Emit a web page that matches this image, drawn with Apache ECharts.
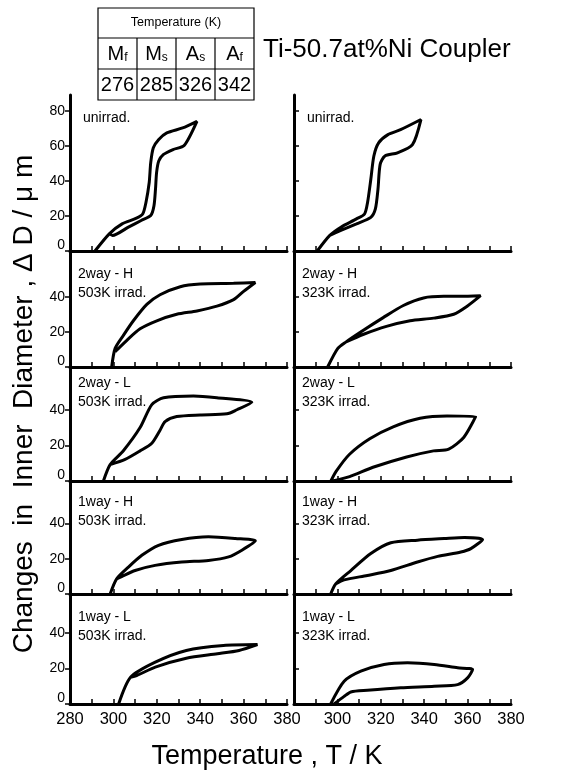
<!DOCTYPE html>
<html>
<head>
<meta charset="utf-8">
<script src="https://cdn.jsdelivr.net/npm/echarts@6/dist/echarts.min.js"></script>
<style>
html, body { margin: 0; padding: 0; background: #fff; }
#chart { width: 567px; height: 773px; }
</style>
</head>
<body>
<div id="chart"></div>
<script>
var FONT = '"Liberation Sans", Arial, sans-serif';

/* axes */
var tempMin = 280, tempMax = 380;
var rowYMax = [89, 66, 64, 64, 62];
var rowYTicks = [[0, 20, 40, 60, 80], [0, 20, 40], [0, 20, 40], [0, 20, 40], [0, 20, 40]];

/* panel captions, top to bottom */
var panelNames = ['unirrad.', '2way - H', '2way - L', '1way - H', '1way - L'];
var irradLeft = '503K irrad.';
var irradRight = '323K irrad.';

/* transformation temperatures table */
var phaseNames = [['M', 'f'], ['M', 's'], ['A', 's'], ['A', 'f']];
var phaseTemps = [276, 285, 326, 342];

/* loops [T (K), dD (um)]: branch a from start to the high end, branch b back */
var unirrLa = [[291.5, 0], [298.1, 9.8], [304.0, 15.5], [310.6, 18.7], [313.5, 21.1], [315.0, 27.7], [316.5, 39.1], [317.2, 50.4], [318.4, 58.9], [320.9, 63.6], [324.6, 67.4], [331.9, 70.2], [338.5, 74.0]];
var unirrLb = [[338.5, 74.0], [332.6, 60.2], [327.5, 57.9], [323.1, 55.1], [320.9, 51.3], [319.9, 44.7], [319.4, 35.3], [318.7, 25.8], [317.2, 20.2], [312.8, 17.4], [306.9, 13.6], [299.6, 8.9], [298.1, 9.8]];
var unirrRa = [[290.7, 0], [296.5, 8.9], [301.6, 13.6], [308.8, 18.3], [312.5, 21.1], [313.9, 27.7], [315.4, 40.9], [316.8, 54.2], [319.0, 61.7], [323.3, 66.4], [329.1, 69.2], [338.5, 75.0]];
var unirrRb = [[338.5, 75.0], [334.6, 60.7], [327.7, 56.0], [321.9, 54.2], [319.7, 49.4], [318.7, 35.3], [317.5, 24.0], [315.4, 19.2], [308.8, 15.5], [301.6, 11.7], [296.5, 8.9]];

var twoHLa = [[299.2, 0], [300.8, 10.6], [304.6, 18.0], [309.2, 26.3], [315.4, 35.6], [321.5, 41.1], [330.8, 45.7], [340.0, 47.2], [355.4, 47.6], [365.4, 48.1]];
var twoHLb = [[365.4, 48.1], [360.0, 43.0], [355.4, 38.3], [347.7, 34.6], [338.5, 31.9], [329.2, 30.0], [320.0, 26.3], [312.3, 21.7], [306.2, 15.2], [300.8, 8.7]];
var twoHRa = [[295.5, 0], [300.2, 10.6], [304.0, 14.3], [310.2, 19.5], [321.1, 28.1], [330.4, 35.0], [339.7, 39.3], [349.0, 40.2], [356.7, 40.2], [366.0, 40.6]];
var twoHRb = [[366.0, 40.6], [359.8, 34.6], [353.6, 30.0], [344.3, 27.8], [333.5, 26.3], [322.6, 23.1], [311.8, 18.5], [304.0, 14.3]];

var twoLLa = [[295.4, 0], [298.5, 9.2], [304.6, 17.0], [312.3, 30.0], [317.7, 42.9], [323.1, 46.7], [336.9, 47.7], [347.7, 46.7], [363.8, 44.2]];
var twoLLb = [[363.8, 44.2], [356.9, 40.0], [352.3, 37.7], [340.0, 37.1], [329.2, 36.2], [323.8, 33.3], [321.5, 28.5], [317.7, 21.2], [312.3, 16.9], [305.4, 12.1], [298.5, 9.2]];
var twoLRa = [[297.0, 0], [299.4, 5.4], [305.6, 15.0], [314.9, 23.7], [325.7, 30.4], [338.1, 35.2], [350.5, 36.5], [363.7, 36.2]];
var twoLRb = [[363.7, 36.2], [358.3, 24.6], [351.3, 17.9], [344.3, 16.9], [331.9, 13.5], [316.4, 7.7], [305.6, 2.5], [297.8, 0]];

var oneHLa = [[298.5, 0], [301.5, 8.6], [306.9, 15.2], [313.1, 21.9], [320.8, 27.6], [331.5, 30.9], [343.8, 32.4], [356.2, 31.4], [365.4, 30.1]];
var oneHLb = [[365.4, 30.1], [359.2, 24.8], [353.1, 21.0], [343.8, 19.0], [331.5, 18.1], [319.2, 16.2], [310.0, 13.3], [303.8, 9.9], [301.5, 8.6]];
var oneHRa = [[296.9, 0], [299.2, 5.7], [306.2, 13.3], [315.4, 22.9], [324.6, 29.0], [336.9, 30.5], [349.2, 31.4], [358.5, 32.0], [366.9, 30.9]];
var oneHRb = [[366.9, 30.9], [361.5, 25.7], [356.9, 23.8], [346.2, 21.3], [336.9, 18.1], [324.6, 13.3], [313.8, 10.5], [303.1, 8.0], [299.2, 5.7]];

var oneLLa = [[302.4, 0], [307.9, 15.1], [319.3, 23.6], [333.6, 30.2], [350.7, 33.0], [366.4, 33.5]];
var oneLLb = [[366.4, 33.5], [357.9, 30.2], [347.9, 28.3], [333.6, 25.8], [319.3, 20.8], [310.7, 16.0], [307.9, 15.1]];
var oneLRa = [[296.9, 0], [303.1, 12.8], [310.8, 18.5], [321.5, 22.3], [332.3, 23.2], [344.6, 22.3], [355.4, 20.4], [362.3, 19.4]];
var oneLRb = [[362.3, 19.4], [360.0, 14.7], [355.4, 10.9], [344.6, 10.0], [329.2, 9.1], [313.8, 7.7], [306.2, 6.8], [303.1, 4.3], [298.5, 0]];

// row-major: left (503K), right (323K)
var loops = [
    [unirrLa, unirrLb], [unirrRa, unirrRb],
    [twoHLa, twoHLb], [twoHRa, twoHRb],
    [twoLLa, twoLLb], [twoLRa, twoLRb],
    [oneHLa, oneHLb], [oneHRa, oneHRb],
    [oneLLa, oneLLb], [oneLRa, oneLRb]
];

/* layout */
var colLeft = [70, 294];
var colWidth = 217;
var rowTop = [95, 251, 367, 481, 594];
var rowBottom = [251, 367, 481, 594, 704];
var captionOffset = [23, 23, 16, 21, 23];

var grids = [], xAxes = [], yAxes = [], series = [], graphics = [];

for (var r = 0; r < 5; r++) {
    for (var c = 0; c < 2; c++) {
        var i = r * 2 + c;
        grids.push({
            left: colLeft[c], width: colWidth,
            top: rowTop[r], height: rowBottom[r] - rowTop[r]
        });
        xAxes.push({
            type: 'value', gridIndex: i,
            min: tempMin, max: tempMax, interval: 10,
            axisLine: { lineStyle: { color: '#000', width: 3 } },
            axisTick: { inside: true, length: 5, lineStyle: { color: '#000', width: 1.5 } },
            splitLine: { show: false },
            axisLabel: {
                show: r === 4, fontSize: 16.5, fontFamily: FONT, color: '#000', margin: 7,
                formatter: (function (col) {
                    return function (v) {
                        if (v % 20 !== 0) return '';
                        if (col === 1 && v === tempMin) return '';
                        return v;
                    };
                })(c)
            }
        });
        yAxes.push({
            type: 'value', gridIndex: i,
            min: 0, max: rowYMax[r], interval: 20,
            axisLine: { show: true, onZero: false, lineStyle: { color: '#000', width: 3 } },
            axisTick: {
                show: true, inside: c === 1, length: 5,
                customValues: rowYTicks[r],
                lineStyle: { color: '#000', width: 1.5 }
            },
            axisLabel: {
                show: c === 0, customValues: rowYTicks[r],
                fontSize: 14, fontFamily: FONT, color: '#000', margin: 5,
                formatter: function (v) { return v === 0 ? '{z|0}' : String(v); },
                rich: { z: { fontSize: 14, fontFamily: FONT, color: '#000', padding: [0, 0, 12, 0] } }
            },
            splitLine: { show: false }
        });
        series.push({
            type: 'line', xAxisIndex: i, yAxisIndex: i,
            data: loops[i][0].concat(loops[i][1].slice(1)),
            showSymbol: false, smooth: 0.25,
            lineStyle: { color: '#000', width: 3 },
            silent: true
        });

        var caption = r === 0 ? panelNames[r] : panelNames[r] + '\n' + (c === 0 ? irradLeft : irradRight);
        graphics.push({
            type: 'text',
            x: colLeft[c] + (r === 0 ? 13 : 8),
            y: rowTop[r] + captionOffset[r] - 9,
            style: {
                text: caption, fontSize: 14, fontFamily: FONT, fill: '#000',
                lineHeight: 19, align: 'left', verticalAlign: 'top',
                textAlign: 'left', textVerticalAlign: 'top'
            }
        });
    }
}

/* table */
var tabX = 98, tabW = 39, tabRows = [8, 38, 69, 100];
var tabLine = { stroke: '#000', lineWidth: 1.2 };
graphics.push({
    type: 'rect',
    shape: { x: tabX, y: tabRows[0], width: tabW * 4, height: tabRows[3] - tabRows[0] },
    style: { fill: 'none', stroke: '#000', lineWidth: 1.2 }
});
graphics.push({ type: 'line', shape: { x1: tabX, y1: tabRows[1], x2: tabX + tabW * 4, y2: tabRows[1] }, style: tabLine });
graphics.push({ type: 'line', shape: { x1: tabX, y1: tabRows[2], x2: tabX + tabW * 4, y2: tabRows[2] }, style: tabLine });
for (var k = 1; k < 4; k++) {
    graphics.push({ type: 'line', shape: { x1: tabX + tabW * k, y1: tabRows[1], x2: tabX + tabW * k, y2: tabRows[3] }, style: tabLine });
}
graphics.push({
    type: 'text', x: tabX + tabW * 2, y: (tabRows[0] + tabRows[1]) / 2,
    style: { text: 'Temperature (K)', fontSize: 12.5, fontFamily: FONT, fill: '#000',
        align: 'center', verticalAlign: 'middle', textAlign: 'center', textVerticalAlign: 'middle' }
});
for (var k = 0; k < 4; k++) {
    graphics.push({
        type: 'text', x: tabX + tabW * k + tabW / 2, y: (tabRows[1] + tabRows[2]) / 2 + 1,
        style: {
            text: '{b|' + phaseNames[k][0] + '}{s|' + phaseNames[k][1] + '}',
            align: 'center', verticalAlign: 'middle', textAlign: 'center', textVerticalAlign: 'middle',
            rich: {
                b: { fontSize: 20, fontFamily: FONT, fill: '#000', lineHeight: 20, verticalAlign: 'bottom' },
                s: { fontSize: 12, fontFamily: FONT, fill: '#000', lineHeight: 20, verticalAlign: 'bottom', padding: [0, 0, 1, 0] }
            }
        }
    });
    graphics.push({
        type: 'text', x: tabX + tabW * k + tabW / 2, y: (tabRows[2] + tabRows[3]) / 2 + 1,
        style: { text: String(phaseTemps[k]), fontSize: 20, fontFamily: FONT, fill: '#000',
            align: 'center', verticalAlign: 'middle', textAlign: 'center', textVerticalAlign: 'middle' }
    });
}

/* titles */
graphics.push({
    type: 'text', x: 263, y: 50,
    style: { text: 'Ti-50.7at%Ni Coupler', fontSize: 26, fontFamily: FONT, fill: '#000',
        align: 'left', verticalAlign: 'middle', textAlign: 'left', textVerticalAlign: 'middle' }
});
graphics.push({
    type: 'text', x: 267, y: 757,
    style: { text: 'Temperature , T / K', fontSize: 27, fontFamily: FONT, fill: '#000',
        align: 'center', verticalAlign: 'middle', textAlign: 'center', textVerticalAlign: 'middle' }
});
graphics.push({
    type: 'text', x: 24, y: 404, rotation: Math.PI / 2,
    style: { text: 'Changes  in  Inner  Diameter , \u0394 D / \u03bc m', fontSize: 28, fontFamily: FONT, fill: '#000',
        align: 'center', verticalAlign: 'middle', textAlign: 'center', textVerticalAlign: 'middle' }
});

var myChart = echarts.init(document.getElementById('chart'));
myChart.setOption({
    animation: false,
    grid: grids,
    xAxis: xAxes,
    yAxis: yAxes,
    series: series,
    graphic: graphics
});
</script>
</body>
</html>
